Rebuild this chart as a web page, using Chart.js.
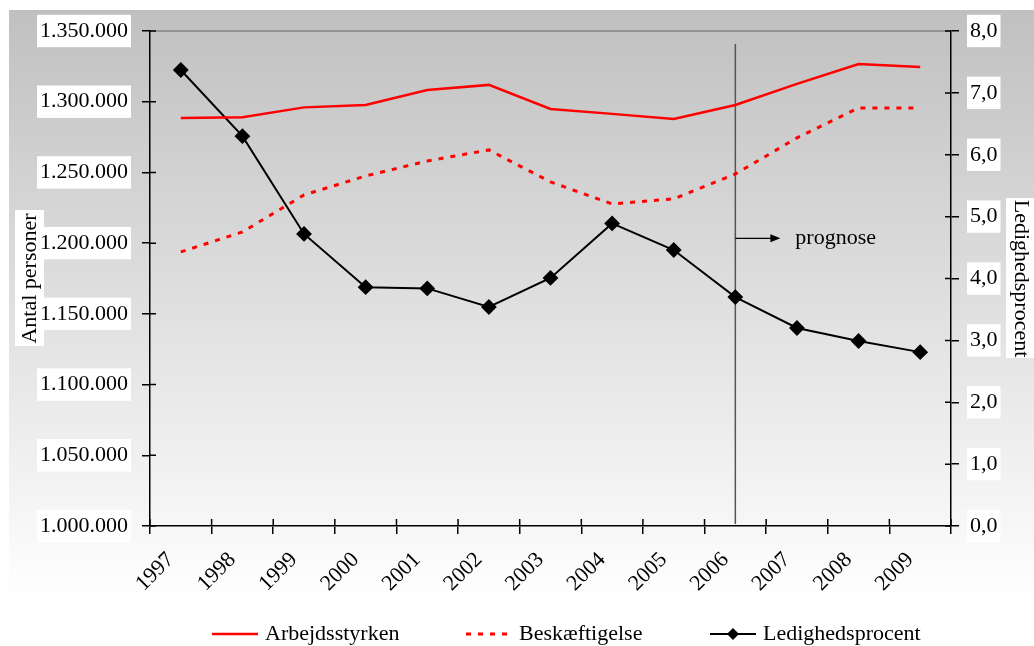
<!DOCTYPE html>
<html>
<head>
<meta charset="utf-8">
<script src="https://cdn.jsdelivr.net/npm/chart.js@4.4.1/dist/chart.umd.min.js"></script>
<style>
  html, body { margin: 0; padding: 0; background: #fff; }
  #wrap { width: 1034px; height: 646px; position: relative; }
</style>
</head>
<body>
<div id="wrap"><canvas id="chart" width="1034" height="646"></canvas></div>
<script>
// data
const years = ['1997', '1998', '1999', '2000', '2001', '2002', '2003', '2004', '2005', '2006', '2007', '2008', '2009'];
const arbejdsstyrken = [1288500, 1289000, 1296000, 1297700, 1308300, 1311900, 1294900, 1291400, 1287800, 1297700, 1312600, 1326700, 1324600];
const beskaeftigelse = [1193800, 1207900, 1234100, 1247500, 1258100, 1265900, 1243300, 1227700, 1231300, 1248900, 1274400, 1295600, 1295600];
const ledighedsprocent = [7.37, 6.30, 4.72, 3.86, 3.84, 3.54, 4.01, 4.89, 4.46, 3.70, 3.20, 2.99, 2.81];
const prognoseYear = '2006';

const FONT = 'Liberation Serif, "Times New Roman", serif';

function thousands(v) {
    return String(Math.round(v)).replace(/\B(?=(\d{3})+(?!\d))/g, '.');
}

// background gradient, frame and inner tick marks
const decorPlugin = {
    id: 'decor',
    beforeDraw(chart) {
        const ctx = chart.ctx;
        ctx.save();
        const g = ctx.createLinearGradient(0, 10, 0, 600);
        g.addColorStop(0, '#c0c0c0');
        g.addColorStop(1, '#ffffff');
        ctx.fillStyle = g;
        ctx.fillRect(9, 10, chart.width - 9, 620);
        // white boxes behind the axis titles
        ctx.fillStyle = '#fff';
        ctx.fillRect(15, 210, 29, 136);
        ctx.fillRect(1006, 198, 28, 160);
        // top border of plot area
        const a = chart.chartArea;
        ctx.strokeStyle = '#808080';
        ctx.lineWidth = 1.5;
        ctx.beginPath();
        ctx.moveTo(a.left, a.top);
        ctx.lineTo(a.right, a.top);
        ctx.stroke();
        ctx.restore();
    },
    beforeDatasetsDraw(chart) {
        const ctx = chart.ctx;
        const a = chart.chartArea;
        const x = chart.scales.x;
        const y = chart.scales.y;
        const y1 = chart.scales.y1;
        ctx.save();
        ctx.strokeStyle = '#000';
        ctx.lineWidth = 1.5;
        ctx.beginPath();
        y.ticks.forEach(t => {
            const py = y.getPixelForValue(t.value);
            ctx.moveTo(a.left, py);
            ctx.lineTo(a.left + 6, py);
        });
        y1.ticks.forEach(t => {
            const py = y1.getPixelForValue(t.value);
            ctx.moveTo(a.right, py);
            ctx.lineTo(a.right - 6, py);
        });
        const half = (x.getPixelForValue(1) - x.getPixelForValue(0)) / 2;
        for (let i = 0; i <= years.length; i++) {
            const px = x.getPixelForValue(i) - half;
            ctx.moveTo(px, a.bottom);
            ctx.lineTo(px, a.bottom - 7);
        }
        ctx.stroke();

        // prognose marker
        const px = x.getPixelForValue(years.indexOf(prognoseYear));
        ctx.strokeStyle = '#555';
        ctx.lineWidth = 1.5;
        ctx.beginPath();
        ctx.moveTo(px, a.top + 13);
        ctx.lineTo(px, a.bottom - 2);
        ctx.stroke();

        const ay = y1.getPixelForValue(4.65);
        ctx.strokeStyle = '#000';
        ctx.lineWidth = 1.3;
        ctx.beginPath();
        ctx.moveTo(px, ay);
        ctx.lineTo(px + 36, ay);
        ctx.stroke();
        ctx.fillStyle = '#000';
        ctx.beginPath();
        ctx.moveTo(px + 45, ay);
        ctx.lineTo(px + 35, ay - 4);
        ctx.lineTo(px + 35, ay + 4);
        ctx.closePath();
        ctx.fill();

        ctx.font = '22px ' + FONT;
        ctx.textBaseline = 'middle';
        ctx.textAlign = 'left';
        ctx.fillText('prognose', px + 60, ay);
        ctx.restore();
    },
    afterDraw(chart) {
        // legend
        const ctx = chart.ctx;
        const items = [
            { ds: 0, x: 212 },
            { ds: 1, x: 466 },
            { ds: 2, x: 710 },
        ];
        const ly = 634;
        ctx.save();
        ctx.font = '22px ' + FONT;
        ctx.textBaseline = 'middle';
        ctx.textAlign = 'left';
        items.forEach(it => {
            const ds = chart.data.datasets[it.ds];
            ctx.strokeStyle = ds.borderColor;
            ctx.lineWidth = ds.borderWidth;
            ctx.setLineDash(ds.borderDash || []);
            ctx.beginPath();
            ctx.moveTo(it.x, ly);
            ctx.lineTo(it.x + 46, ly);
            ctx.stroke();
            ctx.setLineDash([]);
            if (ds.pointRadius > 0) {
                ctx.fillStyle = ds.pointBackgroundColor;
                const r = 6;
                const cx = it.x + 23;
                ctx.beginPath();
                ctx.moveTo(cx, ly - r);
                ctx.lineTo(cx + r, ly);
                ctx.lineTo(cx, ly + r);
                ctx.lineTo(cx - r, ly);
                ctx.closePath();
                ctx.fill();
            }
            ctx.fillStyle = '#000';
            ctx.fillText(ds.label, it.x + 53, ly);
        });
        ctx.restore();
    }
};

const ctx = document.getElementById('chart').getContext('2d');
new Chart(ctx, {
    type: 'line',
    data: {
        labels: years,
        datasets: [
            {
                label: 'Arbejdsstyrken',
                data: arbejdsstyrken,
                yAxisID: 'y',
                borderColor: '#ff0000',
                borderWidth: 2.5,
                pointRadius: 0,
                tension: 0,
            },
            {
                label: 'Beskæftigelse',
                data: beskaeftigelse,
                yAxisID: 'y',
                borderColor: '#ff0000',
                borderWidth: 3,
                borderDash: [5, 7],
                pointRadius: 0,
                tension: 0,
            },
            {
                label: 'Ledighedsprocent',
                data: ledighedsprocent,
                yAxisID: 'y1',
                borderColor: '#000',
                borderWidth: 2,
                pointStyle: 'rectRot',
                pointRadius: 6.5,
                pointBackgroundColor: '#000',
                pointBorderColor: '#000',
                tension: 0,
            },
        ],
    },
    options: {
        responsive: false,
        animation: false,
        devicePixelRatio: 1,
        layout: { padding: { top: 31, left: 0, right: 0, bottom: 0 } },
        plugins: {
            legend: { display: false },
            tooltip: { enabled: false },
        },
        scales: {
            x: {
                offset: true,
                grid: {
                    offset: true,
                    drawOnChartArea: false,
                    color: '#000',
                    lineWidth: 1.5,
                    tickLength: 8,
                },
                border: { color: '#000', width: 1.5 },
                ticks: {
                    color: '#000',
                    font: { family: FONT, size: 22 },
                    minRotation: 45,
                    maxRotation: 45,
                    padding: 13,
                    labelOffset: -10,
                    autoSkip: false,
                },
                afterFit(s) { s.height = 120; },
            },
            y: {
                position: 'left',
                min: 1000000,
                max: 1350000,
                grid: {
                    drawOnChartArea: false,
                    color: '#000',
                    lineWidth: 1.5,
                    tickLength: 8,
                },
                border: { color: '#000', width: 1.5 },
                ticks: {
                    stepSize: 50000,
                    color: '#000',
                    font: { family: FONT, size: 22 },
                    padding: 14,
                    showLabelBackdrop: true,
                    backdropColor: '#fff',
                    backdropPadding: { x: 3, y: 3 },
                    callback: v => thousands(v),
                },
                title: {
                    display: true,
                    text: 'Antal personer',
                    color: '#000',
                    font: { family: FONT, size: 22, lineHeight: 1.2 },
                    padding: { top: 17, bottom: 0 },
                },
                afterFit(s) { s.width = 150; },
            },
            y1: {
                position: 'right',
                min: 0,
                max: 8,
                grid: {
                    drawOnChartArea: false,
                    color: '#000',
                    lineWidth: 1.5,
                    tickLength: 8,
                },
                border: { color: '#000', width: 1.5 },
                ticks: {
                    stepSize: 1,
                    color: '#000',
                    font: { family: FONT, size: 22 },
                    padding: 11,
                    showLabelBackdrop: true,
                    backdropColor: '#fff',
                    backdropPadding: { x: 3, y: 3 },
                    callback: v => v.toFixed(1).replace('.', ','),
                },
                title: {
                    display: true,
                    text: 'Ledighedsprocent',
                    color: '#000',
                    font: { family: FONT, size: 22, lineHeight: 1.2 },
                    padding: { top: 0, bottom: 0 },
                },
                afterFit(s) { s.width = 83; },
            },
        },
    },
    plugins: [decorPlugin],
});
</script>
</body>
</html>
